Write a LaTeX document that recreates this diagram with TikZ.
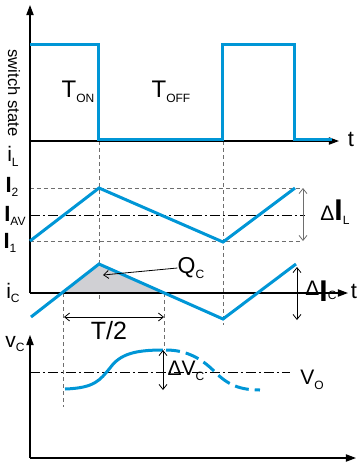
\documentclass[tikz,border=0pt]{standalone}
\usepackage{fontspec}
\setmainfont{Liberation Sans}
\usetikzlibrary{calc,positioning,arrows.meta}
\definecolor{swblue}{RGB}{0,150,214}
\definecolor{qgray}{RGB}{208,208,212}
\definecolor{guidegray}{RGB}{110,110,110}
\newcommand{\lowsub}[1]{\raisebox{-2.4pt}{\fontsize{6}{7}\selectfont #1}}
\newcommand{\thickI}{{\fontsize{11}{12}\selectfont\bfseries I}}
\newcommand{\tallI}[1]{\raisebox{#1}{\fontsize{15}{16}\selectfont\bfseries I}}

\begin{document}
\begin{tikzpicture}[x=0.5pt,y=-0.5pt,
    axis/.style={line width=0.6pt,-{Triangle[length=5pt,width=3.6pt]}},
    wave/.style={swblue,line width=1.5pt},
    guide/.style={guidegray,line width=0.4pt,dash pattern=on 2pt off 1.5pt},
    level/.style={black,line width=0.5pt,dash pattern=on 5pt off 1.5pt on 1pt off 1.5pt},
    dim/.style={line width=0.4pt,{Straight Barb[length=2.5pt,width=4pt]}-{Straight Barb[length=2.5pt,width=4pt]}},
    lbl/.style={inner sep=0pt,font=\fontsize{10.5}{12}\selectfont},
    big/.style={inner sep=0pt,font=\fontsize{12}{14}\selectfont}]
  \useasboundingbox (0,0) rectangle (358,463);

  % guide lines
  \draw[guide] (99,141) -- (99,300);
  \draw[guide] (223,141) -- (223,325);
  \draw[guide] (30,188) -- (303,188);
  \draw[guide] (30,241) -- (303,241);
  \draw[guide] (63,293) -- (63,407);
  \draw[guide] (164,293) -- (164,350);
  \draw[level] (30,215) -- (305,215);
  \draw[level] (30,372) -- (290,372);

  % charge area
  \fill[qgray] (63,293) -- (99,264) -- (164,293) -- cycle;

  % axes
  \draw[axis] (30,293) -- (30,5);
  \draw[axis] (30,141) -- (339,141);
  \draw[axis] (30,293) -- (348,293);
  \draw[axis] (30,458) -- (30,335);
  \draw[axis] (30,458) -- (356,458);

  % waveforms
  \draw[wave] (30,44) -| (99,139) -| (223,44) -| (295,139) -- (332,139);
  \draw[wave] (30,241) -- (99,188) -- (223,242) -- (295,188);
  \draw[wave] (31,317) -- (99,264) -- (223,319) -- (296,264);
  \draw[wave] (65,389) .. controls (95,388) and (100,380) .. (110,368)
        .. controls (120,354) and (135,350) .. (163,350);
  \draw[wave,dash pattern=on 7pt off 3pt] (166,350) .. controls (190,350) and (205,362) .. (215,372)
        .. controls (228,385) and (240,390) .. (260,390);

  % dimensions
  \draw[dim,guidegray] (303,188) -- (303,241);
  \draw[dim] (64,317) -- (164,317);
  \draw[dim] (297,267) -- (297,320);
  \draw[dim] (163,350) -- (163,390);

  % labels
  \node[inner sep=0pt,rotate=-90,font=\fontsize{8.3}{10}\selectfont] (sw) at (14,93) {switch state};
  \node[big] (ton) at (78,92) {T\lowsub{ON}};
  \node[big] (toff) at (171,92) {T\lowsub{OFF}};
  \node[lbl,font=\fontsize{11}{12}\selectfont] (t1) at (351,139) {t};
  \node[lbl] (il) at (13,156) {i\lowsub{L}};
  \node[lbl] (i2) at (12,187) {\thickI\lowsub{2}};
  \node[lbl] (iav) at (15,216) {\thickI\lowsub{AV}};
  \node[lbl] (i1) at (10,243) {\thickI\lowsub{1}};
  \node[lbl,anchor=base west] (dil) at (320,220) {Δ\tallI{0pt}\lowsub{L}};
  \node[lbl,font=\fontsize{11.5}{13}\selectfont] (qc) at (191,268) {Q\lowsub{C}};
  \node[lbl] (ic) at (13,293) {i\lowsub{C}};
  \node[lbl,anchor=base west] (dic) at (305,295) {Δ\tallI{-3pt}\lowsub{C}};
  \node[lbl,font=\fontsize{11}{12}\selectfont] (t2) at (354,291) {t};
  \node[big,font=\fontsize{12.5}{14}\selectfont] (half) at (109,331) {T/2};
  \node[lbl] (vc) at (15,344) {v\lowsub{C}};
  \node[lbl] (dvc) at (186,371) {ΔV\lowsub{C}};
  \node[lbl] (vo) at (312,380) {V\lowsub{O}};

  % pointer to charge
  \coordinate (qtip) at (103,275);
  \draw[line width=0.4pt,-{Straight Barb[length=2.5pt,width=4pt]}] (qc.west) -- (qtip);
\end{tikzpicture}
\end{document}
